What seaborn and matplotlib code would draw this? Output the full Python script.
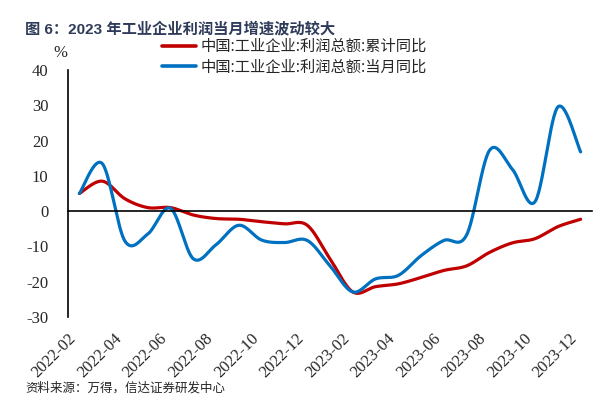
import numpy as np
import pandas as pd
import matplotlib
matplotlib.use("Agg")
import matplotlib.pyplot as plt
import seaborn as sns

# monthly data, 2022-02 .. 2023-12
months = ['2022-02', '2022-03', '2022-04', '2022-05', '2022-06', '2022-07', '2022-08',
          '2022-09', '2022-10', '2022-11', '2022-12', '2023-01', '2023-02', '2023-03',
          '2023-04', '2023-05', '2023-06', '2023-07', '2023-08', '2023-09', '2023-10',
          '2023-11', '2023-12']
cum_yoy = [5.0, 8.5, 3.5, 1.0, 1.0, -1.1, -2.1, -2.3, -3.0, -3.6, -4.0, -13.5,
           -22.9, -21.4, -20.6, -18.8, -16.8, -15.5, -11.7, -9.0, -7.8, -4.4, -2.3]
month_yoy = [5.0, 13.5, -8.5, -6.5, 0.8, -13.5, -9.5, -4.0, -8.2, -8.9, -8.3, -15.5,
             -22.9, -19.2, -18.2, -12.6, -8.3, -6.7, 17.2, 11.9, 2.7, 29.5, 16.8]
series_names = ['中国:工业企业:利润总额:累计同比', '中国:工业企业:利润总额:当月同比']
colors = ['#C00000', '#0070C0']
yticks = [40, 30, 20, 10, 0, -10, -20, -30]

title = '图 6：2023 年工业企业利润当月增速波动较大'
source = '资料来源：万得，信达证券研发中心'


# smoothed line like Excel (Catmull-Rom via cubic bezier)
def smooth(y, n=30):
    y = np.asarray(y, dtype=float)
    x = np.arange(len(y), dtype=float)
    xs, ys = [], []
    for i in range(len(y) - 1):
        y0 = y[i - 1] if i > 0 else y[i]
        y3 = y[i + 2] if i + 2 < len(y) else y[i + 1]
        x0 = x[i - 1] if i > 0 else x[i]
        x3 = x[i + 2] if i + 2 < len(y) else x[i + 1]
        p1 = np.array([x[i], y[i]])
        p2 = np.array([x[i + 1], y[i + 1]])
        c1 = p1 + (p2 - np.array([x0, y0])) / 6
        c2 = p2 - (np.array([x3, y3]) - p1) / 6
        t = np.linspace(0, 1, n, endpoint=False)[:, None]
        pts = ((1 - t) ** 3) * p1 + 3 * ((1 - t) ** 2) * t * c1 + 3 * (1 - t) * t ** 2 * c2 + t ** 3 * p2
        xs.append(pts[:, 0])
        ys.append(pts[:, 1])
    xs.append([x[-1]])
    ys.append([y[-1]])
    return np.concatenate(xs), np.concatenate(ys)


sns.set_style("white")
plt.rcParams['font.family'] = ['Liberation Serif', 'Noto Sans CJK SC']
plt.rcParams['axes.unicode_minus'] = False

fig = plt.figure(figsize=(6.09, 4.07), dpi=100)
ax = fig.add_axes([68 / 609, 1 - 317 / 407, (592 - 68) / 609, (317 - 70) / 407])

frames = []
for name, vals in zip(series_names, [cum_yoy, month_yoy]):
    sx, sy = smooth(vals)
    frames.append(pd.DataFrame({'x': sx, 'y': sy, 'series': name}))
df = pd.concat(frames, ignore_index=True)

sns.lineplot(data=df, x='x', y='y', hue='series', palette=colors, linewidth=2.3,
             sort=False, estimator=None, ax=ax, legend=False)

ax.set_xlim(-0.5, len(months) - 0.5)
ax.set_ylim(-30, 40)
ax.set_yticks(yticks)
ax.set_yticklabels([str(v) for v in yticks], fontsize=12)
ax.set_xlabel('')
ax.set_ylabel('')

for s in ['top', 'right']:
    ax.spines[s].set_visible(False)
ax.spines['left'].set_color('black')
ax.spines['left'].set_linewidth(1.2)
ax.spines['bottom'].set_position(('data', 0))
ax.spines['bottom'].set_color('black')
ax.spines['bottom'].set_linewidth(1.2)

# tick marks on the zero line at category boundaries
ax.set_xticks(np.arange(1.5, len(months) - 0.5, 2))
ax.tick_params(axis='x', which='major', direction='out', length=4, width=1.2,
               color='black', labelbottom=False)
ax.tick_params(axis='y', direction='out', length=4, width=1.2, color='black', pad=10)

# labels at the bottom of the plot
sec = ax.secondary_xaxis('bottom')
sec.set_xticks(np.arange(0, len(months), 2))
sec.set_xticklabels(months[::2], rotation=45, ha='right', va='top', fontsize=12)
sec.tick_params(length=0, pad=10)
sec.spines['bottom'].set_visible(False)

fig.text(60 / 609, 1 - 53 / 407, '%', fontsize=12, ha='center', va='center')

handles = [plt.Line2D([], [], color=c, linewidth=2.6) for c in colors]
fig.legend(handles, series_names, loc='upper left', bbox_to_anchor=(162 / 609, 1 - 38 / 407),
           frameon=False, fontsize=11, handlelength=2.2, handletextpad=0.3,
           labelspacing=0.25, borderpad=0, borderaxespad=0,
           prop={'family': ['Noto Sans CJK SC'], 'size': 11})

fig.text(25 / 609, 1 - 29 / 407, title, fontsize=11, fontweight='bold', color='#2E3B59',
         ha='left', va='center', family=['Liberation Sans', 'Noto Sans CJK SC'])
fig.text(25 / 609, 1 - 388 / 407, source, fontsize=9, style='italic',
         ha='left', va='center', family=['Noto Sans CJK SC'])

fig.savefig('out.png', dpi=100)
